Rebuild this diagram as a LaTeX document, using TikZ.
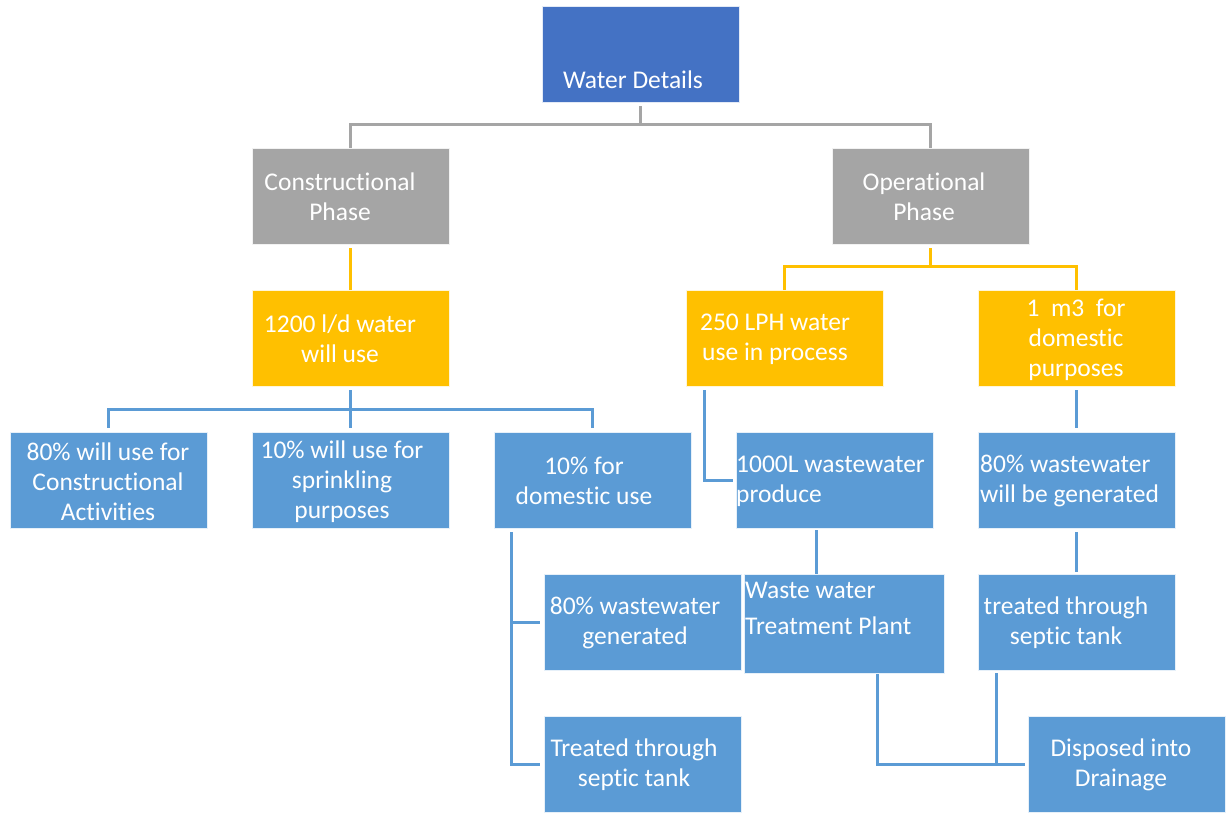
\documentclass[tikz,border=0pt]{standalone}
\usepackage{fontspec}
\setmainfont[Ligatures=NoCommon]{Carlito}
\usetikzlibrary{calc}
\definecolor{cblue}{HTML}{4472C4}
\definecolor{cgray}{HTML}{A5A5A5}
\definecolor{cgold}{HTML}{FFC000}
\definecolor{clblue}{HTML}{5B9BD5}
\begin{document}
\begin{tikzpicture}[x=1pt,y=-1pt,
  box/.style={rectangle,fill=#1,draw=white!85!#1,line width=0.8pt,minimum width=197pt,minimum height=96pt,inner sep=0pt},
  txt/.style={text=white,inner sep=0pt,font=\fontsize{25.5}{30}\selectfont},
  gline/.style={draw=cgray,line width=3pt},
  yline/.style={draw=cgold,line width=3pt},
  bline/.style={draw=clblue,line width=3pt}]
\useasboundingbox[fill=white] (0,0) rectangle (1230,812);
% boxes
\node[box=cblue] (wd) at (640.5,54) {};
\node[box=cgray] (cp) at (350.5,196) {};
\node[box=cgray] (op) at (930.5,196) {};
\node[box=cgold] (u1200) at (350.5,338) {};
\node[box=cgold] (u250) at (784.5,338) {};
\node[box=cgold] (dom1) at (1076.5,338) {};
\node[box=clblue] (a1) at (108.5,480) {};
\node[box=clblue] (a2) at (350.5,480) {};
\node[box=clblue] (dom) at (592.5,480) {};
\node[box=clblue] (ww1000) at (834.5,480) {};
\node[box=clblue] (ww80b) at (1076.5,480) {};
\node[box=clblue] (ww80) at (642.5,622) {};
\node[box=clblue,minimum width=200pt,minimum height=99pt] (wwtp) at (844,623.5) {};
\node[box=clblue] (sep2) at (1076.5,622) {};
\node[box=clblue] (sep1) at (642.5,764) {};
\node[box=clblue] (drain) at (1126.5,764) {};
% texts
\node[txt] at (633,80) {Water Details};
\node[txt,align=center] at (340,197) {Constructional\\Phase};
\node[txt,align=center] at (924,197) {Operational\\Phase};
\node[txt,align=center] at (340,339) {1200 l/d water\\will use};
\node[txt,align=center] at (775,339) {250 LPH water\\use in process};
\node[txt,align=center] at (1076,340) {1\ \ m3\ \ for\\domestic\\purposes};
\node[txt,align=center] at (108,482) {80\% will use for\\Constructional\\Activities};
\node[txt,align=center] at (342,482) {10\% will use for\\sprinkling\\purposes};
\node[txt,align=center] at (584,481) {10\% for\\domestic use};
\node[txt,align=left,anchor=west] at (736,481) {1000L wastewater\\produce};
\node[txt,align=left,anchor=west] at (980,481) {80\% wastewater\\will be generated};
\node[txt,align=center] at (635,623) {80\% wastewater\\generated};
\node[txt,align=left,anchor=west,font=\fontsize{25.5}{36}\selectfont] at (745,608) {Waste water\\Treatment Plant};
\node[txt,align=center] at (1066,623) {treated through\\septic tank};
\node[txt,align=center] at (634,765) {Treated through\\septic tank};
\node[txt,align=center] at (1121,765) {Disposed into\\Drainage};
% gray connectors
\coordinate (gbus) at (0,124);
\draw[gline] ([yshift=-4pt]wd.south) |- (cp.north |- gbus) -- (cp.north);
\draw[gline] ([yshift=-4pt]wd.south) |- (op.north |- gbus) -- (op.north);
% gold connectors
\draw[yline] ([yshift=-4pt]cp.south) -- (u1200.north);
\coordinate (ybus) at (0,266);
\draw[yline] ([yshift=-4pt]op.south) |- (u250.north |- ybus) -- (u250.north);
\draw[yline] ([yshift=-4pt]op.south) |- (dom1.north |- ybus) -- (dom1.north);
% blue connectors
\coordinate (bbus) at (0,409);
\draw[bline] ([yshift=-4pt]u1200.south) -- ([yshift=4pt]a2.north);
\draw[bline] (u1200.south |- bbus) -| ([yshift=4pt]a1.north);
\draw[bline] (u1200.south |- bbus) -| ([yshift=4pt]dom.north);
\coordinate (c250) at ([xshift=19pt,yshift=-4pt]u250.south west);
\draw[bline] (c250) |- ([xshift=-3pt]ww1000.west);
\draw[bline] ([yshift=-4pt]dom1.south) -- ([yshift=4pt]ww80b.north);
\coordinate (c1000) at ([xshift=81pt,yshift=-2pt]ww1000.south west);
\draw[bline] (c1000) -- (c1000 |- wwtp.north);
\draw[bline] ([yshift=-4pt]ww80b.south) -- ([yshift=2pt]sep2.north);
\coordinate (d1) at ([xshift=18pt,yshift=-4pt]dom.south west);
\draw[bline] (d1) -- (d1 |- sep1.west) -- ([xshift=-4pt]sep1.west);
\draw[bline] (d1 |- ww80.west) -- ([xshift=-4pt]ww80.west);
\coordinate (t1) at ([xshift=134pt,yshift=-1pt]wwtp.south west);
\draw[bline] (t1) |- ([xshift=-3pt]drain.west);
\coordinate (s2) at ([xshift=19pt,yshift=-3pt]sep2.south west);
\draw[bline] (s2) -- (s2 |- drain.west);
\end{tikzpicture}
\end{document}
